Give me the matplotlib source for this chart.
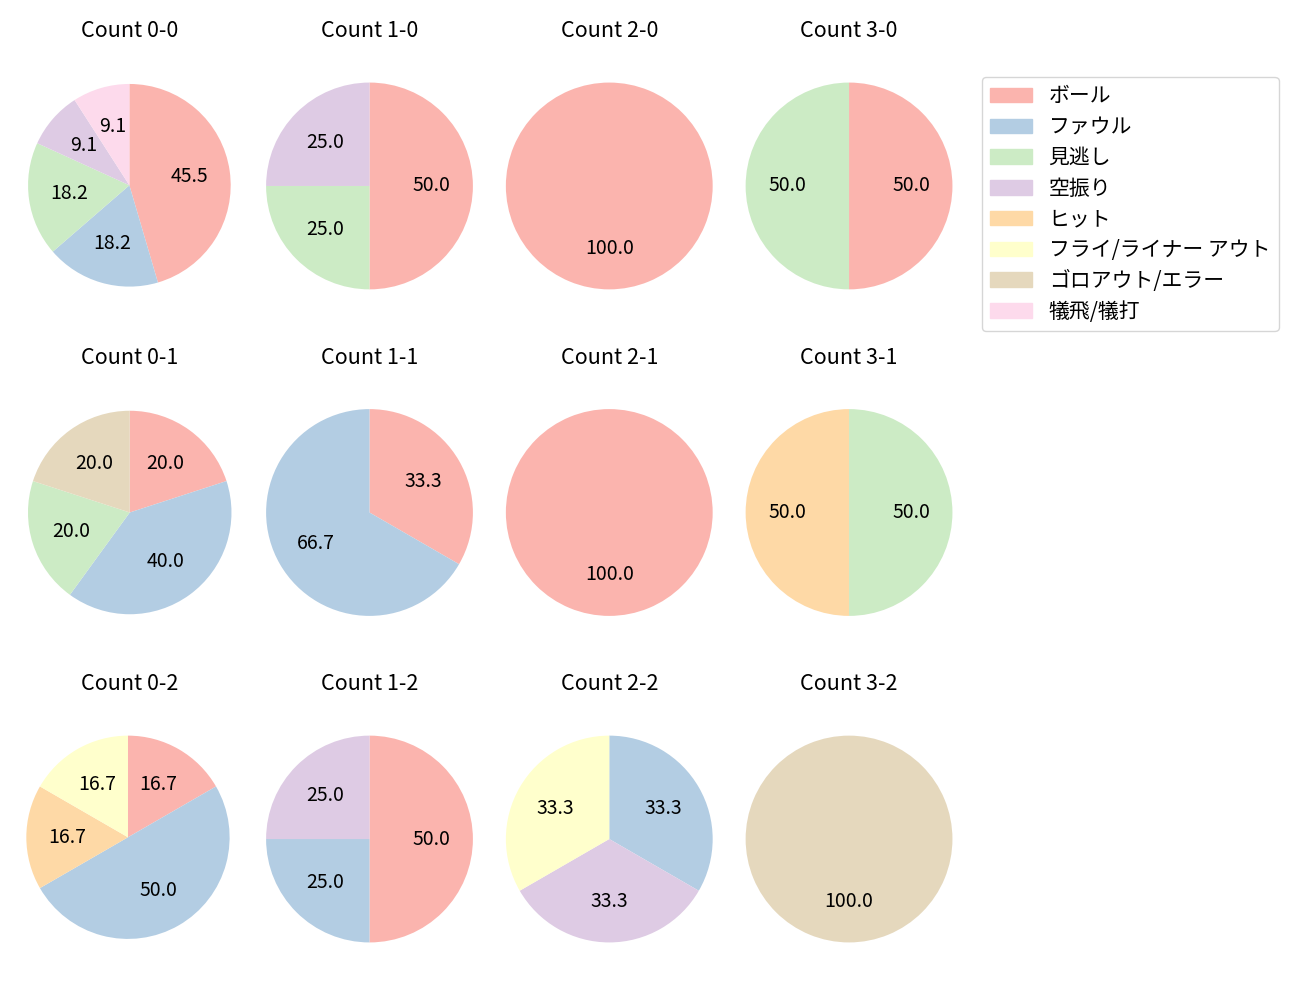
import numpy as np
import matplotlib
matplotlib.use("Agg")
import matplotlib.pyplot as plt

plt.rcParams['font.family'] = ['Noto Sans CJK JP', 'DejaVu Sans']
plt.rcParams['font.size'] = 14

# 結果の種類
categories = ['ボール', 'ファウル', '見逃し', '空振り', 'ヒット',
              'フライ/ライナー アウト', 'ゴロアウト/エラー', '犠飛/犠打']

# カウント別の件数 (categories の順)
count_0_0 = [5, 2, 2, 1, 0, 0, 0, 1]
count_1_0 = [2, 0, 1, 1, 0, 0, 0, 0]
count_2_0 = [1, 0, 0, 0, 0, 0, 0, 0]
count_3_0 = [1, 0, 1, 0, 0, 0, 0, 0]
count_0_1 = [1, 2, 1, 0, 0, 0, 1, 0]
count_1_1 = [1, 2, 0, 0, 0, 0, 0, 0]
count_2_1 = [1, 0, 0, 0, 0, 0, 0, 0]
count_3_1 = [0, 0, 1, 0, 1, 0, 0, 0]
count_0_2 = [1, 3, 0, 0, 1, 1, 0, 0]
count_1_2 = [2, 1, 0, 1, 0, 0, 0, 0]
count_2_2 = [0, 1, 0, 1, 0, 1, 0, 0]
count_3_2 = [0, 0, 0, 0, 0, 0, 1, 0]

titles = [['Count 0-0', 'Count 1-0', 'Count 2-0', 'Count 3-0'],
          ['Count 0-1', 'Count 1-1', 'Count 2-1', 'Count 3-1'],
          ['Count 0-2', 'Count 1-2', 'Count 2-2', 'Count 3-2']]
data = [[count_0_0, count_1_0, count_2_0, count_3_0],
        [count_0_1, count_1_1, count_2_1, count_3_1],
        [count_0_2, count_1_2, count_2_2, count_3_2]]

colors = plt.cm.Pastel1(np.arange(len(categories)))

fig, axes = plt.subplots(3, 4, figsize=(13, 10), dpi=100)
fig.subplots_adjust(left=0.0123, right=0.7406, top=0.9565, bottom=0.0185,
                    wspace=0.054, hspace=0.146)

for i in range(3):
    for j in range(4):
        ax = axes[i][j]
        vals = np.array(data[i][j])
        idx = np.nonzero(vals)[0]
        wedges, texts, autotexts = ax.pie(vals[idx], colors=colors[idx],
                                          autopct='%.1f', startangle=90,
                                          counterclock=False)
        # 古い版と同じく、ウェッジの制御点から表示範囲を決める
        verts = np.vstack([w.get_path().vertices for w in wedges])
        lo = verts.min(axis=0)
        hi = verts.max(axis=0)
        m = 0.05 * (hi - lo)
        ax.set_aspect('equal', adjustable='datalim')
        ax.set_xlim(lo[0] - m[0], hi[0] + m[0])
        ax.set_ylim(lo[1] - m[1], hi[1] + m[1])
        ax.set_title(titles[i][j], fontsize=15.5, pad=4.5)

handles = [plt.Rectangle((0, 0), 1, 1, color=c) for c in colors]
fig.legend(handles, categories, loc='upper left',
           bbox_to_anchor=(982 / 1300, 1 - 77 / 1000), borderaxespad=0,
           fontsize=15, labelspacing=0.42)

fig.savefig('out.png')
